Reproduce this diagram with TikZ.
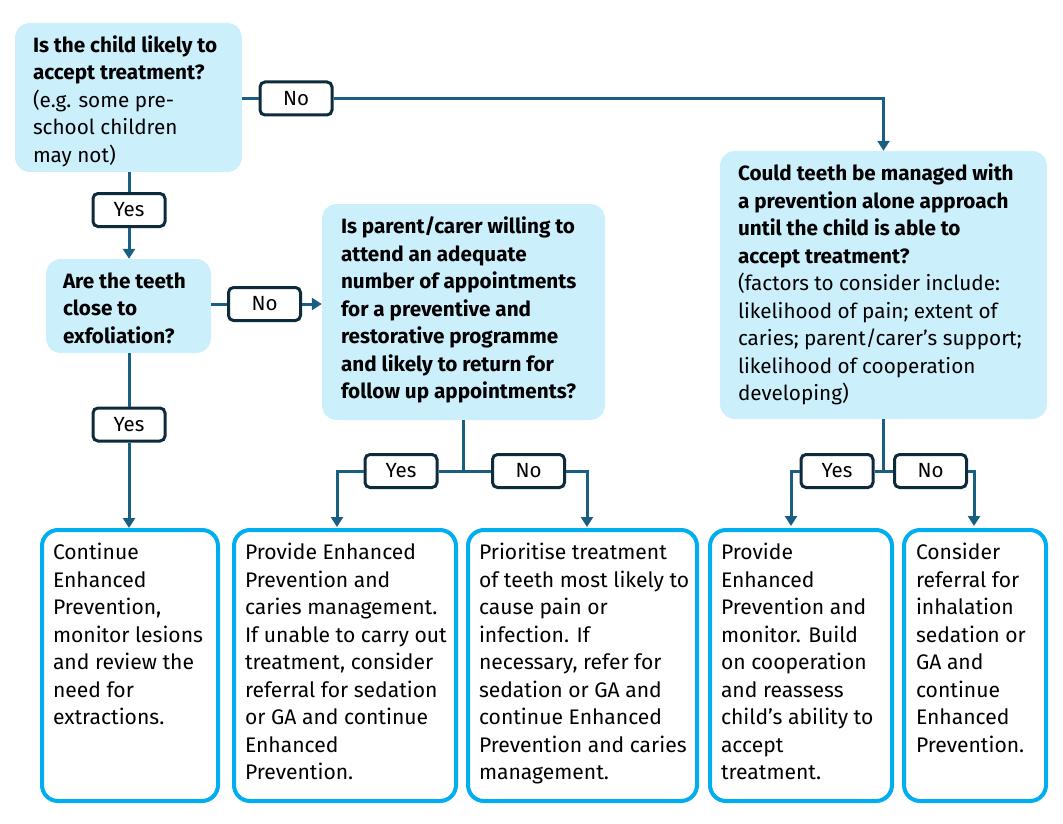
\documentclass[tikz,border=0pt]{standalone}
\usepackage{fontspec}
\setmainfont{Fira Sans}
\usetikzlibrary{arrows.meta}
\definecolor{qfill}{HTML}{CCEFFC}
\definecolor{connc}{HTML}{1A5F82}
\definecolor{labc}{HTML}{0D2B3B}
\definecolor{outc}{HTML}{00AEEF}
\newcommand\otextfont{\fontsize{21.1}{27.5}\selectfont}
\newcommand\qlines[3]{\raisebox{#1}[\height][\depth]{\makebox[#2][l]{\begin{tabular}{@{}l@{}}#3\end{tabular}}}}
\newcommand\obody[2]{\parbox[c][250pt][t]{#1}{\otextfont\begin{tabular}[t]{@{}l@{}}#2\end{tabular}}}
\newcommand\rg{\mdseries}
\begin{document}
\begin{tikzpicture}[x=1pt,y=-1pt,
 qbox/.style={fill=qfill, rounded corners=15pt, inner sep=0pt,
   font=\fontsize{20.7}{27.5}\selectfont\bfseries},
 lbl/.style={draw=labc, line width=3pt, rounded corners=5pt, fill=white, inner sep=0pt,
   minimum width=72pt, minimum height=33pt, font=\fontsize{20.5}{22}\selectfont},
 obox/.style={draw=outc, line width=4pt, rounded corners=16pt, inner sep=0pt},
 conn/.style={draw=connc, line width=3pt},
 arr/.style={conn, -{Triangle[length=10pt,width=12pt]}}]
\useasboundingbox (0,0) rectangle (1063,824);
% question boxes
\node[qbox, minimum width=227pt, minimum height=149pt] (A) at (128.5,97.5)
 {\qlines{-4.5pt}{191pt}{Is the child likely to\\accept treatment?\\\rg(e.g. some pre-\\\rg school children\\\rg may not)}};
\node[qbox, minimum width=165pt, minimum height=94pt] (B) at (128.5,306)
 {\qlines{-4pt}{131pt}{Are the teeth\\close to\\exfoliation?}};
\node[qbox, minimum width=283pt, minimum height=216pt] (C) at (463.5,312)
 {\qlines{1.5pt}{245pt}{Is parent/carer willing to\\attend an adequate\\number of appointments\\for a preventive and\\restorative programme\\and likely to return for\\follow up appointments?}};
\node[qbox, minimum width=327pt, minimum height=268pt] (D) at (883.5,285)
 {\qlines{0pt}{291pt}{Could teeth be managed with\\a prevention alone approach\\until the child is able to\\accept treatment?\\\rg(factors to consider include:\\\rg likelihood of pain; extent of\\\rg caries; parent/carer's support;\\\rg likelihood of cooperation\\\rg developing)}};
% outcome boxes
\node[obox, minimum width=176pt, minimum height=271pt] (E) at (130,665.5)
 {\obody{154pt}{Continue\\Enhanced\\Prevention,\\monitor lesions\\and review the\\need for\\extractions.}};
\node[obox, minimum width=222pt, minimum height=271pt] (F) at (345,665.5)
 {\obody{200pt}{Provide Enhanced\\Prevention and\\caries management.\\If unable to carry out\\treatment, consider\\referral for sedation\\or GA and continue\\Enhanced\\Prevention.}};
\node[obox, minimum width=229pt, minimum height=271pt] (G) at (582.5,665.5)
 {\obody{207pt}{Prioritise treatment\\of teeth most likely to\\cause pain or\\infection. If\\necessary, refer for\\sedation or GA and\\continue Enhanced\\Prevention and caries\\management.}};
\node[obox, minimum width=182pt, minimum height=271pt] (H) at (801,665.5)
 {\obody{160pt}{Provide\\Enhanced\\Prevention and\\monitor. Build\\on cooperation\\and reassess\\child’s ability to\\accept\\treatment.}};
\node[obox, minimum width=142pt, minimum height=271pt] (I) at (975,665.5)
 {\obody{118pt}{Consider\\referral for\\inhalation\\sedation or\\GA and\\continue\\Enhanced\\Prevention.}};
% labels
\node[lbl] (n1) at (296,98.5) {No};
\node[lbl] (y1) at (129,210) {Yes};
\node[lbl] (n2) at (264.5,304) {No};
\node[lbl] (y3) at (129,424.5) {Yes};
\node[lbl] (y4) at (401,471) {Yes};
\node[lbl] (n4) at (528.5,471) {No};
\node[lbl] (y5) at (837,471) {Yes};
\node[lbl] (n5) at (930.5,471) {No};
% junctions and arrow ends
\coordinate (cj) at (C.south |- y4);
\coordinate (dj) at (D.south |- y5);
\coordinate (fT) at (337,527);
\coordinate (gT) at (587,527);
\coordinate (hT) at (791,526);
\coordinate (iT) at (974,526);
% connectors
\draw[conn] (A.east |- n1) -- (n1.west);
\draw[arr] (n1.east) -| (D.north);
\draw[conn] (A.south -| y1) -- (y1.north);
\draw[arr] (y1.south) -- (B.north -| y1);
\draw[conn] (B.east |- n2) -- (n2.west);
\draw[arr] (n2.east) -- (n2.east -| C.west);
\draw[conn] (B.south -| y3) -- (y3.north);
\draw[arr] (y3.south) -- (y3.south |- E.north);
\draw[conn] (C.south) -- (cj) -- (y4.east);
\draw[conn] (cj) -- (n4.west);
\draw[arr] (y4.west) -| (fT);
\draw[arr] (n4.east) -| (gT);
\draw[conn] (D.south) -- (dj) -- (y5.east);
\draw[conn] (dj) -- (n5.west);
\draw[arr] (y5.west) -| (hT);
\draw[arr] (n5.east) -| (iT);
\end{tikzpicture}
\end{document}
